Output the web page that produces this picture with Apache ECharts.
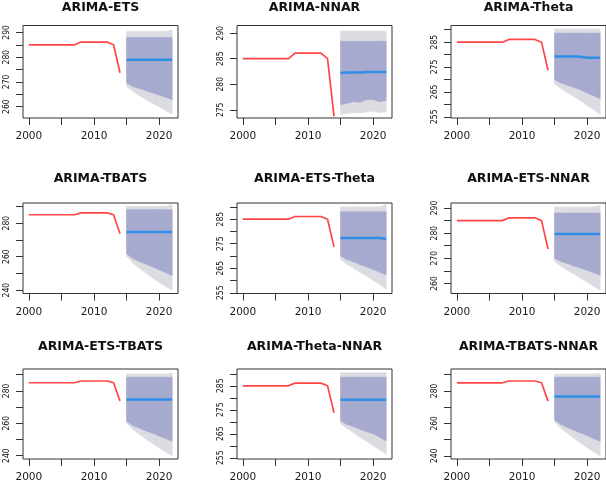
<!DOCTYPE html>
<html>
<head>
<meta charset="utf-8">
<title>ARIMA combination forecasts</title>
<script src="https://cdn.jsdelivr.net/npm/echarts@6/dist/echarts.min.js"></script>
<style>
  html, body { margin: 0; padding: 0; background: #fff; }
  #chart { width: 606px; height: 483px; }
</style>
</head>
<body>
<div id="chart"></div>
<script>
  // observed series (same in every panel)
  var histYears = [2000, 2001, 2002, 2003, 2004, 2005, 2006, 2007, 2008, 2009, 2010, 2011, 2012, 2013, 2014];
  var histValues = [285, 285, 285, 285, 285, 285, 285, 285, 286.1, 286.1, 286.1, 286.1, 286.1, 285, 273.7];

  var fcYears = [2015, 2016, 2017, 2018, 2019, 2020, 2021, 2022];
  var xTicks = [2000, 2005, 2010, 2015, 2020];
  var xLabels = [2000, 2010, 2020];

  var titles = ['ARIMA-ETS', 'ARIMA-NNAR', 'ARIMA-Theta',
                'ARIMA-TBATS', 'ARIMA-ETS-Theta', 'ARIMA-ETS-NNAR',
                'ARIMA-ETS-TBATS', 'ARIMA-Theta-NNAR', 'ARIMA-TBATS-NNAR'];

  // point forecasts
  var meanFc = [
    [279.0, 279.0, 279.0, 279.0, 279.0, 279.0, 279.0, 279.0],
    [282.2, 282.3, 282.3, 282.3, 282.4, 282.4, 282.4, 282.4],
    [279.2, 279.2, 279.2, 279.2, 279.1, 278.7, 278.7, 278.7],
    [274.7, 274.7, 274.7, 274.7, 274.7, 274.7, 274.7, 274.7],
    [277.3, 277.3, 277.3, 277.3, 277.3, 277.3, 277.3, 276.9],
    [279.7, 279.7, 279.7, 279.7, 279.7, 279.7, 279.7, 279.7],
    [274.6, 274.6, 274.6, 274.6, 274.6, 274.6, 274.6, 274.6],
    [279.2, 279.2, 279.2, 279.2, 279.2, 279.2, 279.2, 279.2],
    [276.5, 276.5, 276.5, 276.5, 276.5, 276.5, 276.5, 276.5]
  ];

  // 80% interval
  var lo80 = [
    [269.5, 268.1, 267.3, 266.4, 265.5, 264.7, 263.8, 262.8],
    [276.0, 276.3, 276.6, 276.5, 277.0, 277.0, 276.6, 276.8],
    [269.9, 268.6, 267.7, 266.8, 265.8, 264.6, 263.4, 262.3],
    [261.8, 258.8, 257.1, 255.5, 253.9, 252.1, 250.5, 248.7],
    [270.0, 268.5, 267.6, 266.5, 265.5, 264.5, 263.4, 262.3],
    [270.0, 268.7, 267.9, 266.9, 266.1, 265.2, 264.3, 263.3],
    [261.2, 258.5, 256.9, 255.2, 253.8, 252.1, 250.5, 248.8],
    [270.4, 268.9, 268.0, 266.9, 265.9, 265.0, 263.6, 262.0],
    [262.1, 259.2, 257.4, 255.7, 254.1, 252.5, 250.6, 249.0]
  ];
  var hi80 = [
    [287.9, 287.9, 287.9, 287.9, 287.9, 287.9, 287.9, 287.9],
    [288.4, 288.4, 288.4, 288.4, 288.4, 288.4, 288.4, 288.4],
    [288.6, 288.6, 288.6, 288.6, 288.6, 288.6, 288.6, 288.6],
    [288.0, 288.0, 288.0, 288.0, 288.0, 288.0, 288.0, 288.0],
    [288.0, 288.0, 288.0, 288.0, 288.0, 288.0, 288.0, 288.0],
    [288.0, 288.0, 288.0, 288.0, 288.0, 288.0, 288.0, 288.0],
    [288.4, 288.4, 288.4, 288.4, 288.4, 288.4, 288.4, 288.4],
    [288.6, 288.6, 288.6, 288.6, 288.6, 288.6, 288.6, 288.6],
    [288.4, 288.4, 288.4, 288.4, 288.4, 288.4, 288.4, 288.4]
  ];

  // 95% interval
  var lo95 = [
    [268.2, 266.0, 264.4, 262.8, 261.3, 259.9, 258.4, 257.0],
    [274.1, 274.3, 274.5, 274.4, 274.6, 274.7, 274.5, 274.6],
    [268.1, 266.4, 264.7, 263.1, 261.4, 259.6, 257.8, 255.9],
    [260.2, 256.1, 253.1, 250.1, 247.2, 244.6, 242.2, 240.0],
    [268.6, 266.6, 265.0, 263.4, 261.8, 260.1, 258.4, 256.5],
    [268.7, 266.8, 265.2, 263.7, 262.1, 260.5, 258.9, 257.3],
    [260.0, 256.1, 253.0, 250.1, 247.4, 244.7, 242.3, 240.0],
    [269.2, 267.2, 265.4, 263.6, 261.8, 260.0, 258.3, 256.5],
    [261.0, 256.9, 253.8, 250.7, 247.8, 245.0, 242.5, 240.0]
  ];
  var hi95 = [
    [290.4, 290.4, 290.4, 290.4, 290.4, 290.4, 290.4, 290.9],
    [290.4, 290.4, 290.4, 290.4, 290.4, 290.4, 290.4, 290.4],
    [290.3, 290.3, 290.3, 290.3, 290.3, 290.3, 290.3, 290.3],
    [290.0, 290.0, 290.0, 290.0, 290.0, 290.0, 290.0, 291.0],
    [290.0, 290.0, 290.0, 290.0, 290.0, 290.0, 290.0, 291.0],
    [290.4, 290.4, 290.4, 290.4, 290.4, 290.4, 290.4, 291.0],
    [290.4, 290.4, 290.4, 290.4, 290.4, 290.4, 290.4, 291.0],
    [290.4, 290.4, 290.4, 290.4, 290.4, 290.4, 290.4, 290.4],
    [290.4, 290.4, 290.4, 290.4, 290.4, 290.4, 290.4, 290.8]
  ];

  // y axis range, ticks and labels per panel
  var yMin = [255.4, 273.4, 254.5, 238.0, 254.7, 256.0, 237.9, 254.5, 238.0];
  var yMax = [292.8, 291.5, 291.7, 292.0, 291.6, 292.0, 293.5, 292.0, 293.5];
  var yTicks = [
    [260, 265, 270, 275, 280, 285, 290],
    [275, 280, 285, 290],
    [255, 260, 265, 270, 275, 280, 285, 290],
    [240, 250, 260, 270, 280, 290],
    [255, 260, 265, 270, 275, 280, 285, 290],
    [260, 265, 270, 275, 280, 285, 290],
    [240, 250, 260, 270, 280, 290],
    [255, 260, 265, 270, 275, 280, 285, 290],
    [240, 250, 260, 270, 280, 290]
  ];
  var yLabels = [
    [260, 270, 280, 290],
    [275, 280, 285, 290],
    [255, 265, 275, 285],
    [240, 260, 280],
    [255, 265, 275, 285],
    [260, 270, 280, 290],
    [240, 260, 280],
    [255, 265, 275, 285],
    [240, 260, 280]
  ];

  function pairs(xs, ys) {
    return xs.map(function (x, k) { return [x, ys[k]]; });
  }
  // one item per year step: [x0, lo0, hi0, x1, lo1, hi1]
  function bandSteps(xs, lo, hi) {
    var out = [];
    for (var k = 0; k < xs.length - 1; k++) {
      out.push([xs[k], lo[k], hi[k], xs[k + 1], lo[k + 1], hi[k + 1]]);
    }
    return out;
  }
  function bandRender(color) {
    return function (params, api) {
      var a = api.coord([api.value(0), api.value(1)]);
      var b = api.coord([api.value(0), api.value(2)]);
      var c = api.coord([api.value(3), api.value(5)]);
      var d = api.coord([api.value(3), api.value(4)]);
      return {
        type: 'polygon',
        shape: { points: [a, b, c, d] },
        style: { fill: color, stroke: color, lineWidth: 0.6 }
      };
    };
  }

  var colLeft = [23, 237, 451];
  var rowTop = [25.5, 203, 369];
  var rowH = [92.5, 90.5, 90];
  var titleY = [7.5, 179, 347];
  var boxW = 155;

  var grids = [], xAxes = [], yAxes = [], series = [], titleList = [];

  for (var i = 0; i < 9; i++) {
    var r = Math.floor(i / 3), c = i % 3;

    grids.push({
      left: colLeft[c], top: rowTop[r], width: boxW, height: rowH[r],
      show: true, borderColor: '#333', borderWidth: 1,
      outerBoundsMode: 'none', containLabel: false
    });

    titleList.push({
      text: titles[i],
      left: colLeft[c] + boxW / 2, top: titleY[r],
      textAlign: 'center', textVerticalAlign: 'middle', padding: 0,
      textStyle: { fontFamily: 'DejaVu Sans', fontWeight: 'bold', fontSize: 12.5, color: '#111' }
    });

    xAxes.push({
      type: 'value', gridIndex: i, min: 1999.1, max: 2022.9,
      axisLine: { show: false, onZero: false },
      splitLine: { show: false },
      axisTick: { show: true, length: 7, customValues: xTicks, lineStyle: { color: '#333' } },
      axisLabel: {
        customValues: xLabels, margin: 13,
        formatter: function (v) { return String(v); },
        fontFamily: 'DejaVu Sans', fontSize: 10.5, color: '#1a1a1a'
      }
    });

    yAxes.push({
      type: 'value', gridIndex: i, min: yMin[i], max: yMax[i],
      axisLine: { show: false, onZero: false },
      splitLine: { show: false },
      axisTick: { show: true, length: 7, customValues: yTicks[i], lineStyle: { color: '#333' } },
      axisLabel: {
        customValues: yLabels[i], rotate: 90, margin: 12,
        formatter: function (v) { return String(v); },
        fontFamily: 'DejaVu Sans Condensed', fontSize: 8.5, color: '#111'
      }
    });

    // 95% band
    series.push({
      type: 'custom', xAxisIndex: i, yAxisIndex: i, silent: true,
      data: bandSteps(fcYears, lo95[i], hi95[i]),
      encode: { x: [0, 3], y: [1, 2, 4, 5] },
      renderItem: bandRender('#DBDBE2'), z: 1
    });
    // 80% band
    series.push({
      type: 'custom', xAxisIndex: i, yAxisIndex: i, silent: true,
      data: bandSteps(fcYears, lo80[i], hi80[i]),
      encode: { x: [0, 3], y: [1, 2, 4, 5] },
      renderItem: bandRender('#A7AACF'), z: 2
    });
    // observed
    series.push({
      type: 'line', xAxisIndex: i, yAxisIndex: i, z: 3,
      data: pairs(histYears, histValues), symbol: 'none',
      lineStyle: { color: '#FF4545', width: 1.7 }
    });
    // point forecast
    series.push({
      type: 'line', xAxisIndex: i, yAxisIndex: i, z: 4,
      data: pairs(fcYears, meanFc[i]), symbol: 'none',
      lineStyle: { color: '#2F8FE6', width: 2.5 }
    });
  }

  var chart = echarts.init(document.getElementById('chart'));
  chart.setOption({
    animation: false,
    backgroundColor: '#fff',
    title: titleList,
    grid: grids,
    xAxis: xAxes,
    yAxis: yAxes,
    series: series
  });
</script>
</body>
</html>
